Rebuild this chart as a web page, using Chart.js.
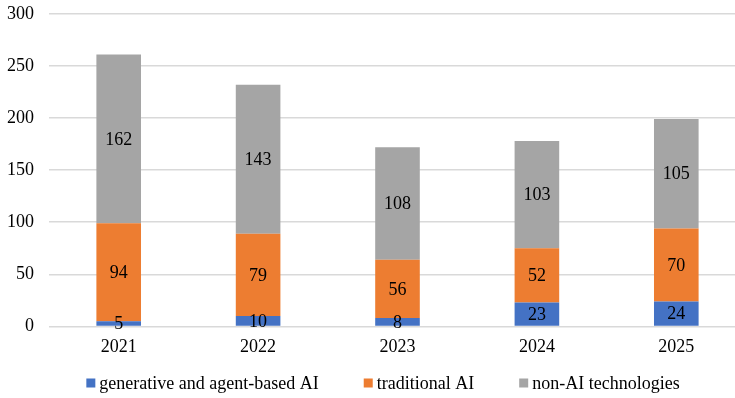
<!DOCTYPE html>
<html>
<head>
<meta charset="utf-8">
<script src="https://cdn.jsdelivr.net/npm/chart.js@4"></script>
<style>
  html, body { margin: 0; padding: 0; background: #fff; overflow: hidden; height: 398px; }
  #wrap { width: 746px; height: 410px; margin-top: -12px; }
</style>
</head>
<body>
<div id="wrap"><canvas id="barChart"></canvas></div>
<script>
let years = ["2021", "2022", "2023", "2024", "2025"];
let generativeAI = [5, 10, 8, 23, 24];
let traditionalAI = [94, 79, 56, 52, 70];
let nonAI = [162, 143, 108, 103, 105];

let serif = "'Liberation Serif', 'Times New Roman', serif";

// numbers in the middle of each segment
let segmentLabels = {
  id: "segmentLabels",
  afterDatasetsDraw(chart) {
    let ctx = chart.ctx;
    ctx.save();
    ctx.font = "18px " + serif;
    ctx.fillStyle = "#000";
    ctx.textAlign = "center";
    ctx.textBaseline = "middle";
    chart.data.datasets.forEach((ds, i) => {
      chart.getDatasetMeta(i).data.forEach((bar, j) => {
        let mid = (bar.y + bar.base) / 2;
        ctx.fillText(ds.data[j], bar.x, mid + 1);
      });
    });
    ctx.restore();
  },
};

// legend drawn by hand so the item gap can differ from the vertical spacing
let bottomLegend = {
  id: "bottomLegend",
  afterDraw(chart) {
    let ctx = chart.ctx;
    let box = 9, gapText = 4, gapItem = 45;
    let centerX = 383, y = 395;
    ctx.save();
    ctx.font = "18px " + serif;
    ctx.textBaseline = "middle";
    ctx.textAlign = "left";
    let items = chart.data.datasets.map((ds) => ({
      text: ds.label,
      color: ds.backgroundColor,
      w: ctx.measureText(ds.label).width,
    }));
    let total = items.reduce((s, it) => s + box + gapText + it.w, 0) + gapItem * (items.length - 1);
    let x = centerX - total / 2;
    items.forEach((it) => {
      ctx.fillStyle = it.color;
      ctx.fillRect(x, y - box / 2, box, box);
      ctx.fillStyle = "#000";
      ctx.fillText(it.text, x + box + gapText, y + 1);
      x += box + gapText + it.w + gapItem;
    });
    ctx.restore();
  },
};

new Chart(document.getElementById("barChart"), {
  type: "bar",
  data: {
    labels: years,
    datasets: [
      {
        label: "generative and agent-based AI",
        data: generativeAI,
        backgroundColor: "#4472C4",
      },
      {
        label: "traditional AI",
        data: traditionalAI,
        backgroundColor: "#ED7D31",
      },
      {
        label: "non-AI technologies",
        data: nonAI,
        backgroundColor: "#A5A5A5",
      },
    ],
  },
  options: {
    responsive: true,
    maintainAspectRatio: false,
    animation: false,
    categoryPercentage: 0.32,
    barPercentage: 1,
    layout: {
      padding: { left: -8, top: 0, right: 0, bottom: 30 },
    },
    plugins: {
      legend: { display: false },
      tooltip: { enabled: false },
    },
    scales: {
      x: {
        stacked: true,
        grid: { display: false, drawTicks: false },
        border: { display: false },
        ticks: {
          font: { family: serif, size: 18 },
          color: "#000",
          padding: 10,
        },
      },
      y: {
        stacked: true,
        min: 0,
        max: 300,
        border: { display: false },
        grid: { color: "#D9D9D9", lineWidth: 1.5, drawTicks: false },
        ticks: {
          stepSize: 50,
          font: { family: serif, size: 18 },
          color: "#000",
          padding: 15,
        },
      },
    },
  },
  plugins: [segmentLabels, bottomLegend],
});
</script>
</body>
</html>
